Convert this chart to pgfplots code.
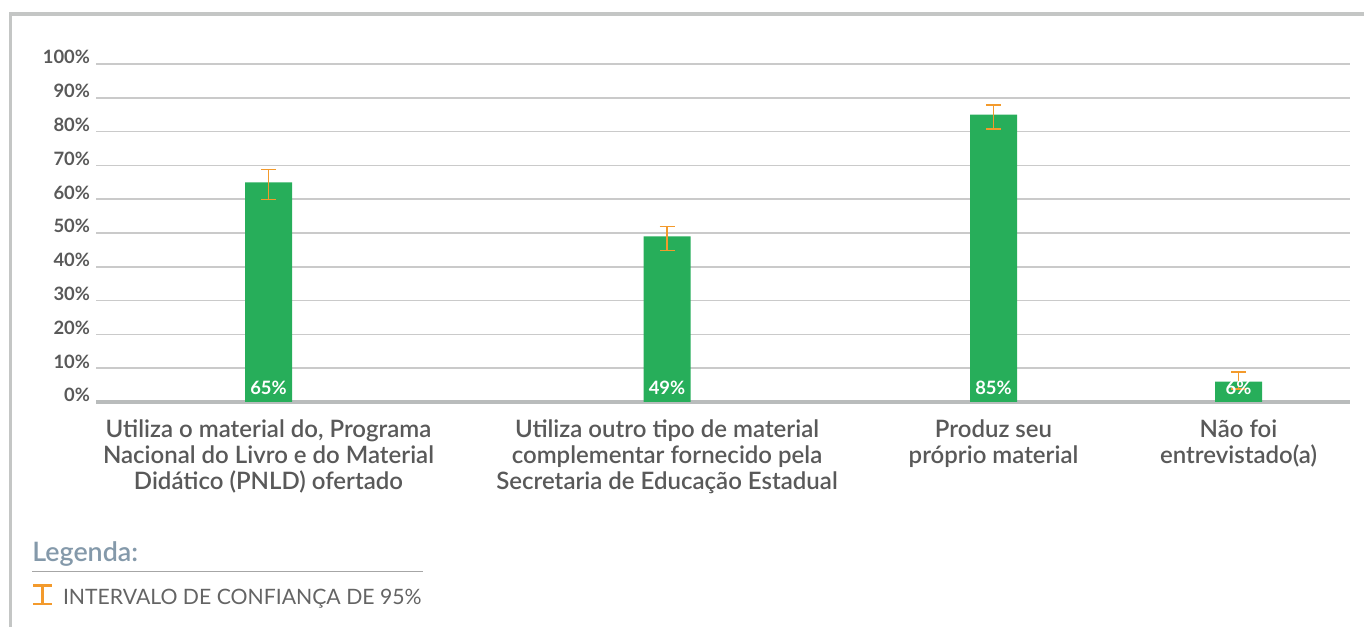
\documentclass[border=0pt]{standalone}
\usepackage{fontspec}
\setmainfont{Lato}
\IfFontExistsTF{Lato Semibold}{\newfontfamily\semi{Lato Semibold}}{\newcommand\semi{\bfseries}}
\usepackage{pgfplots}
\pgfplotsset{compat=1.18}
\definecolor{bargreen}{HTML}{27AE5A}
\definecolor{errorange}{HTML}{F39A2C}
\definecolor{ticktext}{HTML}{595959}
\definecolor{gridc}{HTML}{CACACA}
\definecolor{basec}{HTML}{B9BCBC}
\definecolor{framec}{HTML}{C4C6C5}
\definecolor{legblue}{HTML}{8499AA}
\definecolor{legtext}{HTML}{646464}
\begin{document}
\begin{tikzpicture}
\useasboundingbox (0,0) rectangle (682pt,313pt);
\draw[framec, line width=1.7pt] (5.15pt,-2pt) -- (5.15pt,306pt) -- (684pt,306pt);
\begin{axis}[
  at={(48pt,112pt)}, anchor=south west,
  scale only axis, width=627pt, height=169pt,
  xmin=96, xmax=1350, ymin=0, ymax=100,
  ybar, bar width=23.5pt, bar shift=0pt,
  axis x line*=bottom, axis y line*=left,
  y axis line style={draw=none},
  x axis line style={draw=basec, line width=2pt, -},
  ytick={0,10,...,100},
  ymajorgrids, grid style={gridc, line width=0.8pt},
  major tick length=0pt,
  yticklabel={\pgfmathprintnumber{\tick}\%},
  yticklabel style={font=\fontsize{9.2}{10}\selectfont\bfseries, text=ticktext, anchor=base east, xshift=0.5pt},
  /pgf/number format/assume math mode=true,
  xtick={268.5,667,993.5,1238.5},
  xticklabels={{Utiliza o material do, Programa\\Nacional do Livro e do Material\\Didático (PNLD) ofertado},
               {Utiliza outro tipo de material\\complementar fornecido pela\\Secretaria de Educação Estadual},
               {Produz seu\\próprio material},
               {Não foi\\entrevistado(a)}},
  xticklabel style={align=center, font=\fontsize{12}{13}\selectfont\semi, text=ticktext, yshift=-5.5pt},
  clip=false,
]
\addplot[fill=bargreen, draw=none,
  error bars/.cd, y dir=both, y explicit,
  error bar style={errorange, line width=0.8pt},
  error mark options={errorange, rotate=90, mark size=3.75pt, line width=0.8pt}]
coordinates {
  (268.5,65) += (0,3.8) -= (0,5.1)
  (667,49) += (0,2.9) -= (0,4.2)
  (993.5,85) += (0,2.9) -= (0,4.2)
  (1238.5,6) += (0,2.9) -= (0,2.2)
};
\addplot[draw=none, fill=none, nodes near coords, point meta=explicit symbolic,
  every node near coord/.append style={font=\fontsize{9.2}{10}\selectfont\bfseries, text=white, anchor=base, yshift=3.5pt}]
coordinates {
  (268.5,0) [65\%]
  (667,0) [49\%]
  (993.5,0) [85\%]
  (1238.5,0) [6\%]
};
\end{axis}
\node[anchor=base west, inner sep=0, font=\fontsize{13.4}{15}\selectfont\semi, text=legblue] at (16pt,32.2pt) {Legenda:};
\draw[gray!70, line width=0.5pt] (16pt,27pt) -- (211.5pt,27pt);
\draw[errorange, line width=1.1pt] (16.7pt,20.2pt) -- (25.8pt,20.2pt) (21.25pt,20.2pt) -- (21.25pt,10.9pt) (16.7pt,10.9pt) -- (25.8pt,10.9pt);
\node[anchor=base west, inner sep=0, font=\fontsize{10.6}{13}\selectfont, text=legtext] at (31.3pt,10.8pt) {INTERVALO DE CONFIANÇA DE 95\%};
\end{tikzpicture}
\end{document}
